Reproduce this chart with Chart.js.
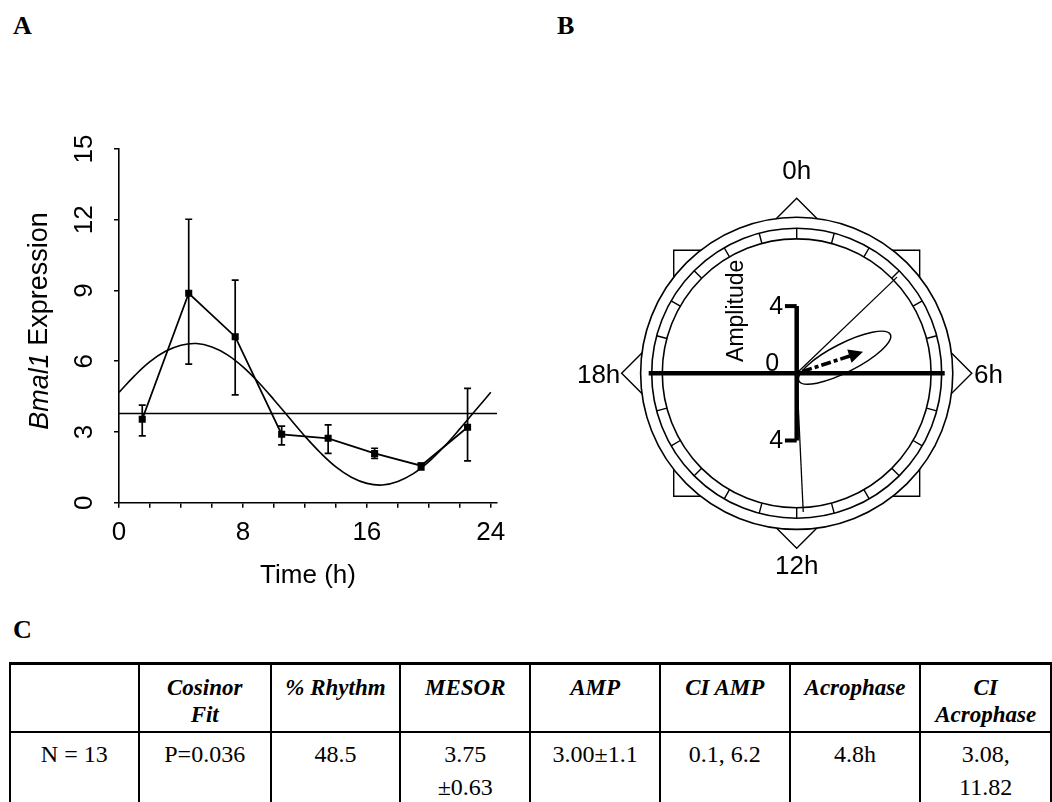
<!DOCTYPE html>
<html>
<head>
<meta charset="utf-8">
<script src="https://cdn.jsdelivr.net/npm/chart.js@4.4.1/dist/chart.umd.min.js"></script>
<style>
html, body { margin: 0; padding: 0; background: #fff; }
body { width: 1052px; height: 802px; overflow: hidden; position: relative; }
.panelLabel { position: absolute; font: bold 26px/26px "Liberation Serif", "Times New Roman", serif; color: #000; }
#chartA { position: absolute; left: 0; top: 100px; }
#chartB { position: absolute; left: 560px; top: 140px; }
#tableC { position: absolute; left: 9px; top: 662px; border-collapse: collapse; table-layout: fixed; color: #000; }
#tableC th, #tableC td { border: 2px solid #000; text-align: center; vertical-align: top; padding: 0; }
#tableC th { font: bold italic 23px/27px "Liberation Serif", "Times New Roman", serif; padding-top: 9px; height: 57px; border-top-width: 3px; }
#tableC td { font: 24px/33px "Liberation Serif", "Times New Roman", serif; padding-top: 5px; height: 120px; }
</style>
</head>
<body>
<div class="panelLabel" style="left:13px;top:13px">A</div>
<div class="panelLabel" style="left:557px;top:13px">B</div>
<div class="panelLabel" style="left:13px;top:617px">C</div>

<canvas id="chartA" width="520" height="500"></canvas>
<canvas id="chartB" width="480" height="460"></canvas>
<table id="tableC"></table>

<script>
// ---- Panel A : Bmal1 expression over 24h ----
const times = [1.5, 4.5, 7.5, 10.5, 13.5, 16.5, 19.5, 22.5]
const expression = [3.54, 8.88, 7.04, 2.90, 2.73, 2.09, 1.57, 3.20]
const errHigh = [4.14, 12.02, 9.44, 3.25, 3.30, 2.31, 1.67, 4.85]
const errLow = [2.83, 5.88, 4.57, 2.45, 2.09, 1.88, 1.39, 1.77]

// cosinor fit curve, every hour
const fitHours = [0, 1, 2, 3, 4, 5, 6, 7, 8, 9, 10, 11, 12, 13, 14, 15, 16, 17, 18, 19, 20, 21, 22, 23, 24]
const fitValues = [4.68, 5.38, 5.98, 6.42, 6.68, 6.75, 6.60, 6.27, 5.76, 5.11, 4.37, 3.59, 2.82, 2.12, 1.52, 1.08, 0.82, 0.75, 0.90, 1.23, 1.74, 2.39, 3.13, 3.91, 4.68]

// mesor line
const mesorX = [0, 24.4]
const mesorY = [3.78, 3.78]

const xLabelEvery = 8
const yTickStep = 3

// ---- Panel B : cosinor polar plot ----
const clockLabels = ['0h', '6h', '12h', '18h']
const clockHours = [0, 6, 12, 18]
const acrophase = 4.8
const amplitude = 3.0
const vectorLength = 4.15
const ciAcrophase = [3.08, 11.82]
const ciAmp = [0.1, 6.2]
const ellipseMinor = 0.85
const ellipseTilt = 27
const ampScaleTicks = [4, 0, -4]
const ampScaleLabels = ['4', '0', '4']

// ---- Panel C : table ----
const tableHeaders = ['', 'Cosinor\nFit', '% Rhythm', 'MESOR', 'AMP', 'CI AMP', 'Acrophase', 'CI\nAcrophase']
const tableRow = ['N = 13', 'P=0.036', '48.5', '3.75\n\u00b10.63', '3.00\u00b11.1', '0.1, 6.2', '4.8h', '3.08,\n11.82']
const colWidths = [130, 133, 130, 131, 130, 131, 131, 131]

const sans = '"Liberation Sans", Arial, sans-serif'

// error bars + rotated y labels + title with italic gene name
const panelAExtras = {
    id: 'panelAExtras',
    afterDatasetsDraw(chart) {
        const ctx = chart.ctx
        const xs = chart.scales.x
        const ys = chart.scales.y
        ctx.save()
        ctx.strokeStyle = '#000'
        ctx.lineWidth = 1.7
        for (let i = 0; i < times.length; i++) {
            const x = xs.getPixelForValue(times[i])
            const yt = ys.getPixelForValue(errHigh[i])
            const yb = ys.getPixelForValue(errLow[i])
            ctx.beginPath()
            ctx.moveTo(x, yt); ctx.lineTo(x, yb)
            ctx.moveTo(x - 3.5, yt); ctx.lineTo(x + 3.5, yt)
            ctx.moveTo(x - 3.5, yb); ctx.lineTo(x + 3.5, yb)
            ctx.stroke()
        }
        ctx.restore()
    },
    afterDraw(chart) {
        const ctx = chart.ctx
        const ys = chart.scales.y
        ctx.save()
        ctx.fillStyle = '#000'
        ctx.font = '26px ' + sans
        ctx.textAlign = 'center'
        ctx.textBaseline = 'middle'
        ys.ticks.forEach(t => {
            const y = ys.getPixelForValue(t.value)
            ctx.save()
            ctx.translate(84, y)
            ctx.rotate(-Math.PI / 2)
            ctx.fillText(String(t.value), 0, 1)
            ctx.restore()
        })
        // axis title
        const italic = 'italic 27px ' + sans
        const plain = '27px ' + sans
        ctx.font = italic
        const w1 = ctx.measureText('Bmal1').width
        ctx.font = plain
        const w2 = ctx.measureText(' Expression').width
        ctx.translate(40, 221)
        ctx.rotate(-Math.PI / 2)
        ctx.textAlign = 'left'
        let start = -(w1 + w2) / 2
        ctx.font = italic
        ctx.fillText('Bmal1', start, 0)
        ctx.font = plain
        ctx.fillText(' Expression', start + w1, 0)
        ctx.restore()
    }
}

new Chart(document.getElementById('chartA'), {
    type: 'scatter',
    data: {
        datasets: [
            {
                label: 'MESOR',
                data: mesorX.map((x, i) => ({ x: x, y: mesorY[i] })),
                showLine: true,
                borderColor: '#000',
                borderWidth: 1.6,
                pointRadius: 0
            },
            {
                label: 'Cosinor fit',
                data: fitHours.map((x, i) => ({ x: x, y: fitValues[i] })),
                showLine: true,
                tension: 0.4,
                borderColor: '#000',
                borderWidth: 1.6,
                pointRadius: 0
            },
            {
                label: 'Bmal1',
                data: times.map((x, i) => ({ x: x, y: expression[i] })),
                showLine: true,
                borderColor: '#000',
                backgroundColor: '#000',
                borderWidth: 1.8,
                pointStyle: 'rect',
                pointRadius: 5,
                pointBorderWidth: 0
            }
        ]
    },
    options: {
        responsive: false,
        animation: false,
        layout: { autoPadding: false, padding: { left: 0, top: 49, right: 23, bottom: 0 } },
        plugins: { legend: { display: false }, tooltip: { enabled: false } },
        scales: {
            x: {
                type: 'linear',
                min: 0,
                max: 24.4,
                afterFit: s => { s.height = 97.3 },
                border: { display: true, color: '#000', width: 1.6 },
                grid: { drawOnChartArea: false, drawTicks: true, tickLength: 5, color: '#000', lineWidth: 1.5 },
                ticks: {
                    stepSize: 2,
                    includeBounds: false,
                    maxRotation: 0,
                    autoSkip: false,
                    padding: 10,
                    color: '#000',
                    font: { family: sans, size: 26 },
                    callback: v => (v % xLabelEvery === 0 ? String(v) : '')
                },
                title: {
                    display: true,
                    text: 'Time (h)',
                    color: '#000',
                    font: { family: sans, size: 26 },
                    padding: { top: 0, bottom: 9 }
                }
            },
            y: {
                type: 'linear',
                min: 0,
                max: 15,
                afterFit: s => { s.width = 119 },
                border: { display: true, color: '#000', width: 1.6 },
                grid: { drawOnChartArea: false, drawTicks: true, tickLength: 5, color: '#000', lineWidth: 1.5 },
                ticks: { stepSize: yTickStep, display: false }
            }
        }
    },
    plugins: [panelAExtras]
})

// ---- Panel B ----
const ringOuter = 9.29
const ringMid = 8.63
const ringInner = 8.0
const squareHalf = 7.32
const diamondTip = 10.42
const ciLineLength = 8.27
const axisHalf = 8.81

function polar(h, r) {
    const a = h * Math.PI / 12
    return { x: r * Math.sin(a), y: r * Math.cos(a) }
}

const clockFace = {
    id: 'clockFace',
    beforeDatasetsDraw(chart) {
        const ctx = chart.ctx
        const xs = chart.scales.x
        const ys = chart.scales.y
        const cx = xs.getPixelForValue(0)
        const cy = ys.getPixelForValue(0)
        const u = xs.getPixelForValue(1) - cx
        ctx.save()
        ctx.strokeStyle = '#000'
        ctx.fillStyle = '#fff'
        ctx.lineWidth = 1.4
        // square
        ctx.beginPath()
        ctx.rect(cx - squareHalf * u, cy - squareHalf * u, 2 * squareHalf * u, 2 * squareHalf * u)
        ctx.fill(); ctx.stroke()
        // diamond
        ctx.beginPath()
        ctx.moveTo(cx, cy - diamondTip * u)
        ctx.lineTo(cx + diamondTip * u, cy)
        ctx.lineTo(cx, cy + diamondTip * u)
        ctx.lineTo(cx - diamondTip * u, cy)
        ctx.closePath()
        ctx.stroke()
        // rings
        ctx.lineWidth = 1.6
        ctx.beginPath(); ctx.arc(cx, cy, ringOuter * u, 0, Math.PI * 2); ctx.fill(); ctx.stroke()
        ctx.beginPath(); ctx.arc(cx, cy, ringMid * u, 0, Math.PI * 2); ctx.stroke()
        ctx.beginPath(); ctx.arc(cx, cy, ringInner * u, 0, Math.PI * 2); ctx.stroke()
        // hour marks in the ring band
        ctx.lineWidth = 1.4
        ctx.beginPath()
        for (let h = 0; h < 24; h++) {
            const a = polar(h, ringInner)
            const b = polar(h, ringMid)
            ctx.moveTo(xs.getPixelForValue(a.x), ys.getPixelForValue(a.y))
            ctx.lineTo(xs.getPixelForValue(b.x), ys.getPixelForValue(b.y))
        }
        ctx.stroke()
        // confidence ellipse
        const c = polar(acrophase, amplitude)
        const semiMajor = (ciAmp[1] - ciAmp[0]) / 2
        ctx.lineWidth = 1.5
        ctx.beginPath()
        ctx.ellipse(xs.getPixelForValue(c.x), ys.getPixelForValue(c.y), semiMajor * u, ellipseMinor * u,
            -ellipseTilt * Math.PI / 180, 0, Math.PI * 2)
        ctx.stroke()
        ctx.restore()
    },
    afterDatasetsDraw(chart) {
        const ctx = chart.ctx
        const xs = chart.scales.x
        const ys = chart.scales.y
        const cx = xs.getPixelForValue(0)
        const cy = ys.getPixelForValue(0)
        ctx.save()
        ctx.fillStyle = '#000'
        // arrow head
        const tip = polar(acrophase, vectorLength)
        const base = polar(acrophase, vectorLength - 0.85)
        const tx = xs.getPixelForValue(tip.x), ty = ys.getPixelForValue(tip.y)
        const bx = xs.getPixelForValue(base.x), by = ys.getPixelForValue(base.y)
        const nx = -(ty - by), ny = (tx - bx)
        const nl = Math.hypot(nx, ny)
        ctx.beginPath()
        ctx.moveTo(tx, ty)
        ctx.lineTo(bx + nx / nl * 7, by + ny / nl * 7)
        ctx.lineTo(bx - nx / nl * 7, by - ny / nl * 7)
        ctx.closePath()
        ctx.fill()
        // clock labels
        ctx.font = '26px ' + sans
        ctx.textBaseline = 'middle'
        ctx.textAlign = 'center'
        ctx.fillText(clockLabels[0], cx, ys.getPixelForValue(12.0))
        ctx.fillText(clockLabels[2], cx, ys.getPixelForValue(-11.5))
        ctx.textAlign = 'left'
        ctx.fillText(clockLabels[1], xs.getPixelForValue(10.55), cy + 3)
        ctx.textAlign = 'right'
        ctx.fillText(clockLabels[3], xs.getPixelForValue(-10.5), cy + 3)
        // amplitude scale labels
        ctx.font = '25px ' + sans
        ampScaleTicks.forEach((v, i) => {
            const x = v === 0 ? -1.05 : -0.8
            const y = v === 0 ? 0.62 : v
            ctx.fillText(ampScaleLabels[i], xs.getPixelForValue(x), ys.getPixelForValue(y) + 1)
        })
        ctx.font = '23px ' + sans
        ctx.textAlign = 'center'
        ctx.translate(xs.getPixelForValue(-3.57), ys.getPixelForValue(3.72))
        ctx.rotate(-Math.PI / 2)
        ctx.fillText('Amplitude', 0, 0)
        ctx.restore()
    }
}

const lineStyle = { showLine: true, borderColor: '#000', pointRadius: 0, fill: false }
const ciLines = ciAcrophase.map(h => {
    const e = polar(h, ciLineLength)
    return Object.assign({ data: [{ x: 0, y: 0 }, e], borderWidth: 1.3 }, lineStyle)
})
const shaftStart = polar(acrophase, 0.35)
const shaftEnd = polar(acrophase, vectorLength - 0.8)

new Chart(document.getElementById('chartB'), {
    type: 'scatter',
    data: {
        datasets: [
            Object.assign({ data: [{ x: -axisHalf, y: 0 }, { x: axisHalf, y: 0 }], borderWidth: 4.5 }, lineStyle),
            Object.assign({ data: [{ x: 0, y: ampScaleTicks[0] }, { x: 0, y: ampScaleTicks[2] }], borderWidth: 4.5 }, lineStyle),
            Object.assign({ data: [{ x: -0.7, y: ampScaleTicks[0] }, { x: 0, y: ampScaleTicks[0] }], borderWidth: 4 }, lineStyle),
            Object.assign({ data: [{ x: -0.7, y: ampScaleTicks[2] }, { x: 0, y: ampScaleTicks[2] }], borderWidth: 4 }, lineStyle),
            ...ciLines,
            Object.assign({ data: [shaftStart, shaftEnd], borderWidth: 3.6, borderDash: [10, 3, 4, 3] }, lineStyle)
        ]
    },
    options: {
        responsive: false,
        animation: false,
        layout: { autoPadding: false, padding: 0 },
        plugins: { legend: { display: false }, tooltip: { enabled: false } },
        scales: {
            x: { type: 'linear', display: false, min: -14.089, max: 14.482 },
            y: { type: 'linear', display: false, min: -13.494, max: 13.887 }
        }
    },
    plugins: [clockFace]
})

// ---- Panel C ----
const table = document.getElementById('tableC')
const colgroup = document.createElement('colgroup')
colWidths.forEach(w => {
    const col = document.createElement('col')
    col.style.width = w + 'px'
    colgroup.appendChild(col)
})
table.appendChild(colgroup)
const headRow = document.createElement('tr')
tableHeaders.forEach(h => {
    const th = document.createElement('th')
    th.innerText = h
    headRow.appendChild(th)
})
table.appendChild(headRow)
const bodyRow = document.createElement('tr')
tableRow.forEach(v => {
    const td = document.createElement('td')
    td.innerText = v
    bodyRow.appendChild(td)
})
table.appendChild(bodyRow)
</script>
</body>
</html>
